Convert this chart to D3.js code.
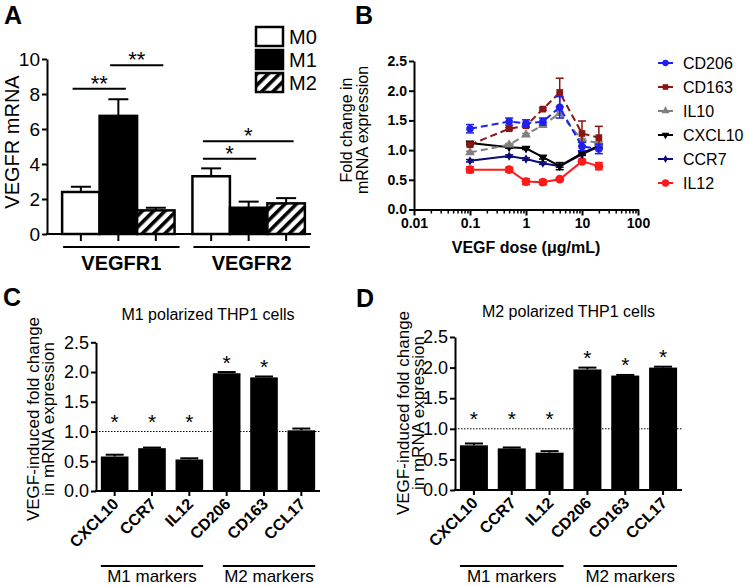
<!DOCTYPE html>
<html><head><meta charset="utf-8">
<script src="https://cdn.jsdelivr.net/npm/d3@7"></script>
<style>
body{margin:0;background:#fff}
svg{display:block}
text{font-family:"Liberation Sans",Arial,Helvetica,sans-serif;fill:#000}
</style>
</head><body>
<svg id="c" width="745" height="586"></svg>
<script>
// ---------------- DATA ----------------
// Panel A
const groupsA = ["VEGFR1", "VEGFR2"];
const seriesA = ["M0", "M1", "M2"];
const valM0 = [2.4, 3.3];
const errM0 = [0.3, 0.45];
const valM1 = [6.75, 1.5];
const errM1 = [0.95, 0.35];
const valM2 = [1.35, 1.75];
const errM2 = [0.15, 0.3];
const ticksA = [0, 2, 4, 6, 8, 10];
// significance: group index, from series, to series, level (data units), label
const sigGroup = [0, 0, 1, 1];
const sigFrom = ["M0", "M1", "M0", "M0"];
const sigTo = ["M1", "M2", "M1", "M2"];
const sigLevel = [8.3, 9.65, 4.3, 5.3];
const sigLabel = ["**", "**", "*", "*"];

// Panel B
const doses = [0.1, 0.5, 1, 2, 4, 10, 20];
const seriesB = ["CD206", "CD163", "IL10", "CXCL10", "CCR7", "IL12"];
const CD206 = [1.36, 1.48, 1.45, 1.48, 1.72, 1.06, 1.02];
const CD206err = [0.07, 0.06, 0.06, 0.06, 0.18, 0.07, 0.08];
const CD163 = [1.09, 1.36, 1.41, 1.69, 1.97, 1.28, 1.21];
const CD163err = [0.02, 0.02, 0.02, 0.02, 0.24, 0.21, 0.19];
const IL10 = [0.96, 1.09, 1.26, 1.42, 1.62, 1.17, 1.12];
const IL10err = [0.02, 0.02, 0.02, 0.02, 0.03, 0.02, 0.02];
const CXCL10 = [1.12, 1.05, 1.03, 0.88, 0.73, 0.95, 1.07];
const CXCL10err = [0.02, 0.02, 0.02, 0.03, 0.06, 0.03, 0.02];
const CCR7 = [0.82, 0.9, 0.85, 0.78, 0.73, 0.93, 1.06];
const CCR7err = [0.02, 0.02, 0.02, 0.02, 0.02, 0.02, 0.02];
const IL12 = [0.67, 0.67, 0.47, 0.46, 0.51, 0.81, 0.73];
const IL12err = [0.05, 0.04, 0.05, 0.04, 0.02, 0.03, 0.06];
const majorTicksB = [0.01, 0.1, 1, 10, 100];
const ticksB = [0, 0.5, 1.0, 1.5, 2.0, 2.5];

// Panels C & D
const markers = ["CXCL10", "CCR7", "IL12", "CD206", "CD163", "CCL17"];
const valC = [0.58, 0.72, 0.53, 1.98, 1.91, 1.02];
const errC = [0.03, 0.01, 0.02, 0.02, 0.015, 0.03];
const sigC = [true, true, true, true, true, false];
const valD = [0.73, 0.68, 0.61, 1.97, 1.87, 2.0];
const errD = [0.03, 0.015, 0.025, 0.03, 0.01, 0.015];
const sigD = [true, true, true, true, true, true];
const ticksCD = [0, 0.5, 1.0, 1.5, 2.0, 2.5];
const markerGroups = ["M1 markers", "M2 markers"];
const markerGroupFirst = ["CXCL10", "CD206"];
const markerGroupLast = ["IL12", "CCL17"];

// ---------------- DRAW ----------------
const svg = d3.select("#c");
const defs = svg.append("defs");
const pat = defs.append("pattern").attr("id", "hatch").attr("patternUnits", "userSpaceOnUse")
  .attr("width", 8).attr("height", 8).attr("patternTransform", "rotate(45)");
pat.append("rect").attr("width", 8).attr("height", 8).attr("fill", "#fff");
pat.append("rect").attr("width", 3.6).attr("height", 8).attr("fill", "#000");

function styleAxis(g, size, weight) {
  g.selectAll("path.domain").attr("stroke", "#000").attr("stroke-width", 2);
  g.selectAll(".tick line").attr("stroke", "#000").attr("stroke-width", 2);
  g.selectAll(".tick text").attr("font-size", size).attr("font-weight", weight)
    .attr("font-family", '"Liberation Sans",Arial,sans-serif').attr("fill", "#000");
}

// Panel labels
const panelLabels = ["A", "B", "C", "D"];
const panelLX = [4, 355, 3, 356];
const panelLY = [24, 24, 306, 307];
panelLabels.forEach((p, i) => svg.append("text").attr("x", panelLX[i]).attr("y", panelLY[i])
  .attr("font-size", 25).attr("font-weight", "bold").text(p));

// ===== Panel A =====
(function () {
  const g = svg.append("g");
  const y = d3.scaleLinear().domain([0, 10]).range([234, 59]);
  const x0 = d3.scaleBand().domain(groupsA).range([53, 314]).paddingInner(0.137).paddingOuter(0.07);
  const x1 = d3.scaleBand().domain(seriesA).range([0, x0.bandwidth()]);
  const vals = { M0: valM0, M1: valM1, M2: valM2 };
  const errs = { M0: errM0, M1: errM1, M2: errM2 };
  const fills = { M0: "#fff", M1: "#000", M2: "url(#hatch)" };

  const ax = g.append("g").attr("transform", "translate(47,0)")
    .call(d3.axisLeft(y).tickValues(ticksA).tickSize(5).tickPadding(2).tickSizeOuter(0));
  styleAxis(ax, 19, "normal");
  g.append("line").attr("x1", 46).attr("x2", 311).attr("y1", y(0)).attr("y2", y(0))
    .attr("stroke", "#000").attr("stroke-width", 2);

  groupsA.forEach((grp, gi) => {
    seriesA.forEach(s => {
      const xx = x0(grp) + x1(s), w = x1.bandwidth(), v = vals[s][gi], e = errs[s][gi];
      const cx = xx + w / 2;
      g.append("line").attr("x1", cx).attr("x2", cx).attr("y1", y(v)).attr("y2", y(v + e))
        .attr("stroke", "#000").attr("stroke-width", 2);
      g.append("line").attr("x1", cx - 10).attr("x2", cx + 10).attr("y1", y(v + e)).attr("y2", y(v + e))
        .attr("stroke", "#000").attr("stroke-width", 2);
      g.append("rect").attr("x", xx).attr("y", y(v)).attr("width", w).attr("height", y(0) - y(v))
        .attr("fill", fills[s]).attr("stroke", "#000").attr("stroke-width", 2.5);
      g.append("line").attr("x1", cx).attr("x2", cx).attr("y1", y(0)).attr("y2", y(0) + 7)
        .attr("stroke", "#000").attr("stroke-width", 2);
    });
    g.append("line").attr("x1", x0(grp) + 1).attr("x2", x0(grp) + x0.bandwidth() + 5)
      .attr("y1", 247).attr("y2", 247).attr("stroke", "#000").attr("stroke-width", 2);
    g.append("text").attr("x", x0(grp) + x0.bandwidth() / 2 + 3).attr("y", 270)
      .attr("text-anchor", "middle").attr("font-size", 20).attr("font-weight", "bold").text(grp);
  });

  sigGroup.forEach((gi, i) => {
    const grp = groupsA[gi];
    const w = x1.bandwidth();
    const xs = x0(grp) + x1(sigFrom[i]) + w * 0.28;
    const xe = x0(grp) + x1(sigTo[i]) + w * 0.7;
    const yy = y(sigLevel[i]);
    g.append("line").attr("x1", xs).attr("x2", xe).attr("y1", yy).attr("y2", yy)
      .attr("stroke", "#000").attr("stroke-width", 2);
    g.append("text").attr("x", (xs + xe) / 2).attr("y", yy + 2).attr("text-anchor", "middle")
      .attr("font-size", 22).text(sigLabel[i]);
  });

  // y label
  g.append("text").attr("transform", "translate(19,142) rotate(-90)").attr("text-anchor", "middle")
    .attr("font-size", 20).text("VEGFR mRNA");

  // legend
  seriesA.forEach((s, i) => {
    const yy = 27 + i * 23;
    g.append("rect").attr("x", 256).attr("y", yy).attr("width", 27).attr("height", 19)
      .attr("fill", fills[s]).attr("stroke", "#000").attr("stroke-width", 2.5);
    g.append("text").attr("x", 289).attr("y", yy + 17).attr("font-size", 20).text(s);
  });
})();

// ===== Panel B =====
(function () {
  const g = svg.append("g");
  const x = d3.scaleLog().domain([0.01, 100]).range([414, 638]);
  const y = d3.scaleLinear().domain([0, 2.5]).range([209.5, 61]);
  const vals = { CD206, CD163, IL10, CXCL10, CCR7, IL12 };
  const errs = { CD206: CD206err, CD163: CD163err, IL10: IL10err, CXCL10: CXCL10err, CCR7: CCR7err, IL12: IL12err };
  const colors = { CD206: "#1f1ff0", CD163: "#8a1515", IL10: "#808080", CXCL10: "#000000", CCR7: "#0b0b7a", IL12: "#ff1a1a" };
  const dashed = { CD206: true, CD163: true, IL10: true, CXCL10: false, CCR7: false, IL12: false };
  const shapes = { CD206: d3.symbolCircle, CD163: d3.symbolSquare, IL10: d3.symbolTriangle, CXCL10: d3.symbolTriangle, CCR7: d3.symbolDiamond, IL12: d3.symbolCircle };
  const sizes = { CD206: 45, CD163: 45, IL10: 40, CXCL10: 35, CCR7: 25, IL12: 60 };
  const rot = { CXCL10: 180 };

  const minors = [];
  [0.01, 0.1, 1, 10].forEach(d => { for (let k = 2; k <= 9; k++) minors.push(d * k); });
  const axm = g.append("g").attr("transform", "translate(0,209.5)")
    .call(d3.axisBottom(x).tickValues(minors).tickSize(4).tickFormat(() => "").tickSizeOuter(0));
  styleAxis(axm, 14, "bold");
  axm.selectAll(".tick line").attr("stroke-width", 1.5);
  const axM = g.append("g").attr("transform", "translate(0,209.5)")
    .call(d3.axisBottom(x).tickValues(majorTicksB).tickSize(6).tickPadding(3).tickSizeOuter(0)
      .tickFormat(d => d3.format("~g")(d)));
  styleAxis(axM, 14, "bold");
  const ay = g.append("g").attr("transform", "translate(414,0)")
    .call(d3.axisLeft(y).tickValues(ticksB).tickSize(5).tickPadding(2).tickSizeOuter(0).tickFormat(d3.format(".1f")));
  styleAxis(ay, 14, "bold");

  g.append("text").attr("x", 526).attr("y", 253).attr("text-anchor", "middle").attr("font-size", 16)
    .attr("font-weight", "bold").text("VEGF dose (\u03bcg/mL)");
  g.append("text").attr("transform", "translate(352,130) rotate(-90)").attr("text-anchor", "middle")
    .attr("font-size", 16).text("Fold change in");
  g.append("text").attr("transform", "translate(368,130) rotate(-90)").attr("text-anchor", "middle")
    .attr("font-size", 16).text("mRNA expression");

  const order = ["IL12", "CCR7", "CXCL10", "IL10", "CD163", "CD206"];
  order.forEach(s => {
    const c = colors[s];
    const pts = doses.map((d, i) => [x(d), y(vals[s][i])]);
    g.append("path").attr("d", d3.line()(pts)).attr("fill", "none").attr("stroke", c)
      .attr("stroke-width", 2).attr("stroke-dasharray", dashed[s] ? "7,4" : null);
    doses.forEach((d, i) => {
      const v = vals[s][i], e = errs[s][i], cx = x(d);
      g.append("line").attr("x1", cx).attr("x2", cx).attr("y1", y(v - e)).attr("y2", y(v + e))
        .attr("stroke", c).attr("stroke-width", 1.5);
      [v - e, v + e].forEach(t => g.append("line").attr("x1", cx - 4).attr("x2", cx + 4)
        .attr("y1", y(t)).attr("y2", y(t)).attr("stroke", c).attr("stroke-width", 1.5));
      g.append("path").attr("d", d3.symbol(shapes[s], sizes[s])())
        .attr("transform", `translate(${cx},${y(v)}) rotate(${rot[s] || 0})`).attr("fill", c);
    });
  });

  seriesB.forEach((s, i) => {
    const yy = 63 + i * 24;
    const c = colors[s];
    g.append("line").attr("x1", 658).attr("x2", 673).attr("y1", yy).attr("y2", yy)
      .attr("stroke", c).attr("stroke-width", 2);
    g.append("path").attr("d", d3.symbol(shapes[s], sizes[s] * 0.7)())
      .attr("transform", `translate(665.5,${yy}) rotate(${rot[s] || 0})`).attr("fill", c);
    g.append("text").attr("x", 683).attr("y", yy + 6).attr("font-size", 16).text(s);
  });
})();

// ===== Panels C & D =====
function barPanel(opt) {
  const g = svg.append("g");
  const x = d3.scaleBand().domain(markers).range([opt.x0, opt.x1]).paddingInner(0.26).paddingOuter(0.13);
  const y = d3.scaleLinear().domain([0, 2.5]).range([opt.yb, opt.yt]);
  const ay = g.append("g").attr("transform", `translate(${opt.x0},0)`)
    .call(d3.axisLeft(y).tickValues(ticksCD).tickSize(5).tickPadding(2).tickSizeOuter(0).tickFormat(d3.format(".1f")));
  styleAxis(ay, 18, "normal");
  g.append("line").attr("x1", opt.x0 - 1).attr("x2", opt.x1).attr("y1", y(0)).attr("y2", y(0))
    .attr("stroke", "#000").attr("stroke-width", 2);
  // reference line
  g.append("line").attr("x1", opt.x0).attr("x2", opt.x1).attr("y1", y(1)).attr("y2", y(1))
    .attr("stroke", "#000").attr("stroke-width", 1).attr("stroke-dasharray", "1.5,1.5");
  markers.forEach((m, i) => {
    const v = opt.vals[i], e = opt.errs[i], cx = x(m) + x.bandwidth() / 2;
    g.append("line").attr("x1", cx).attr("x2", cx).attr("y1", y(v)).attr("y2", y(v + e))
      .attr("stroke", "#000").attr("stroke-width", 2);
    g.append("line").attr("x1", cx - 9).attr("x2", cx + 9).attr("y1", y(v + e)).attr("y2", y(v + e))
      .attr("stroke", "#000").attr("stroke-width", 2);
    g.append("rect").attr("x", x(m)).attr("y", y(v)).attr("width", x.bandwidth()).attr("height", y(0) - y(v))
      .attr("fill", "#000");
    g.append("line").attr("x1", cx).attr("x2", cx).attr("y1", y(0)).attr("y2", y(0) + 5)
      .attr("stroke", "#000").attr("stroke-width", 2);
    if (opt.sig[i]) {
      const top = Math.max(v + e, 1) + 0.22;
      g.append("text").attr("x", cx).attr("y", y(top) + 11).attr("text-anchor", "middle")
        .attr("font-size", 21).text("*");
    }
    g.append("text").attr("transform", `translate(${cx + 5},${y(0) + 14}) rotate(-45)`)
      .attr("text-anchor", "end").attr("font-size", 16).attr("font-weight", "bold").text(m);
  });
  markerGroups.forEach((lab, i) => {
    const xs = x(markerGroupFirst[i]) + (i === 0 ? 0 : 10);
    const xe = x(markerGroupLast[i]) + x.bandwidth();
    g.append("line").attr("x1", xs).attr("x2", xe).attr("y1", 566).attr("y2", 566)
      .attr("stroke", "#000").attr("stroke-width", 2);
    g.append("text").attr("x", (xs + xe) / 2).attr("y", 582).attr("text-anchor", "middle")
      .attr("font-size", 17).text(lab);
  });
  g.append("text").attr("x", (opt.x0 + opt.x1) / 2).attr("y", opt.titleY).attr("text-anchor", "middle")
    .attr("font-size", 16).text(opt.title);
  const cy = opt.labelY;
  g.append("text").attr("transform", `translate(${opt.labX},${cy}) rotate(-90)`).attr("text-anchor", "middle")
    .attr("font-size", 17).text("VEGF-induced fold change");
  g.append("text").attr("transform", `translate(${opt.labX + 15},${cy}) rotate(-90)`).attr("text-anchor", "middle")
    .attr("font-size", 17).text("in mRNA expression");
}

barPanel({ x0: 96, x1: 320, yb: 491, yt: 342.3, vals: valC, errs: errC, sig: sigC,
  title: "M1 polarized THP1 cells", titleY: 320, labX: 39, labelY: 419 });
barPanel({ x0: 455, x1: 682, yb: 490, yt: 337, vals: valD, errs: errD, sig: sigD,
  title: "M2 polarized THP1 cells", titleY: 317, labX: 409, labelY: 413 });
</script>
</body></html>
